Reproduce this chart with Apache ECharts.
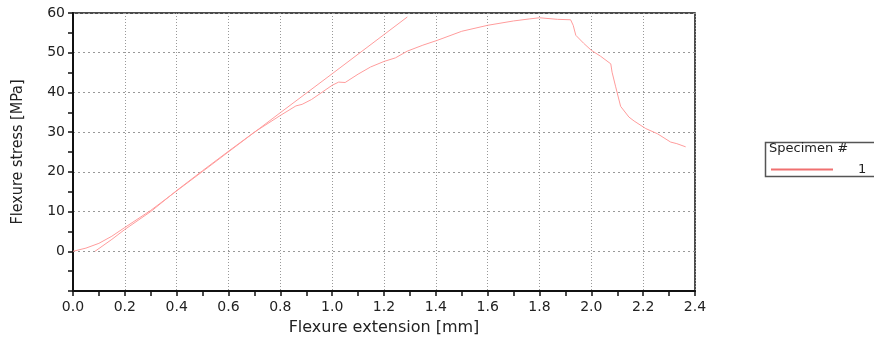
<!DOCTYPE html>
<html>
<head>
<meta charset="utf-8">
<script src="https://cdn.jsdelivr.net/npm/echarts@6/dist/echarts.min.js"></script>
<style>html,body{margin:0;padding:0;background:#fff;}#c{width:874px;height:339px;}</style>
</head>
<body>
<div id="c"></div>
<script>
// Fitted straight line (extension mm, stress MPa)
const fitLine = [[0,0],[0.05,0.8],[0.1,2],[0.15,3.8],[0.2,6],[0.3,10.3],[0.5,20.1],[0.8,34.9],[1.0,44.7],[1.29,59]];
// Specimen 1 measured curve
const specimen1 = [[0.085,0],[0.15,3],[0.2,5.5],[0.3,10],[0.4,15.3],[0.5,20.3],[0.6,25.2],[0.7,30],[0.8,34.2],[0.86,36.6],[0.884,37.0],[0.92,38.2],[1.0,41.8],[1.025,42.6],[1.05,42.5],[1.1,44.6],[1.148,46.4],[1.2,47.8],[1.244,48.7],[1.29,50.4],[1.35,51.9],[1.405,53.1],[1.5,55.4],[1.6,56.9],[1.7,58.0],[1.76,58.5],[1.8,58.8],[1.87,58.4],[1.92,58.3],[1.93,56.9],[1.94,54.4],[1.97,52.4],[2.0,50.6],[2.036,49.1],[2.075,47.2],[2.08,45.1],[2.094,41.4],[2.113,36.5],[2.145,33.8],[2.165,32.8],[2.21,30.9],[2.255,29.6],[2.306,27.5],[2.33,27.1],[2.364,26.3]];
const seriesName = '1';
const legendTitle = 'Specimen #';
const xTitle = 'Flexure extension [mm]';
const yTitle = 'Flexure stress [MPa]';

const chart = echarts.init(document.getElementById('c'));
const tickFont = {fontFamily:'DejaVu Sans', fontSize:14, color:'#222'};
chart.setOption({
  animation:false,
  grid:{left:73, right:179, top:13, bottom:48, outerBoundsMode:'none', containLabel:false, show:true, borderColor:'#111', borderWidth:1.5, backgroundColor:'transparent'},
  xAxis:{type:'value', min:0, max:2.4, interval:0.2,
    name:xTitle, nameLocation:'middle', nameGap:29,
    nameTextStyle:{fontFamily:'DejaVu Sans', fontSize:16, color:'#222'},
    axisLine:{onZero:false, lineStyle:{color:'#111', width:2}},
    axisTick:{show:true, length:5, lineStyle:{color:'#111', width:1.5}},
    minorTick:{show:true, splitNumber:2, length:5, lineStyle:{color:'#111', width:1.5}},
    axisLabel:Object.assign({margin:9, formatter:v=>v.toFixed(1)}, tickFont),
    splitLine:{show:true, lineStyle:{color:'#999', type:[1,2], width:1}}
  },
  yAxis:{type:'value', min:-10, max:60, interval:10,
    name:yTitle, nameLocation:'middle', nameGap:47,
    nameTextStyle:{fontFamily:"'Liberation Sans Narrow','DejaVu Sans Condensed',sans-serif", fontSize:16, color:'#222'},
    axisLine:{onZero:false, lineStyle:{color:'#111', width:2}},
    axisTick:{show:true, length:5, lineStyle:{color:'#111', width:1.5}},
    minorTick:{show:true, splitNumber:2, length:5, lineStyle:{color:'#111', width:1.5}},
    axisLabel:Object.assign({margin:8, formatter:v=>v<0?'':String(v)}, tickFont),
    splitLine:{show:true, lineStyle:{color:'#999', type:[2,3], width:1}}
  },
  legend:{left:766, top:158, data:[seriesName], icon:'rect', itemWidth:62, itemHeight:2,
    itemStyle:{color:'#f07070'},
    textStyle:{fontFamily:'DejaVu Sans', fontSize:13, color:'#222', padding:[0,0,0,20]}},
  graphic:[
    {type:'rect', left:763, top:140, shape:{width:130, height:34}, style:{fill:'none', stroke:'#555', lineWidth:1.5}, z:-1},
    {type:'text', left:769, top:142, style:{text:legendTitle, font:'13px "DejaVu Sans"', fill:'#222'}}
  ],
  series:[
    {name:seriesName, type:'line', data:fitLine, showSymbol:false, lineStyle:{color:'#ff9c9c', width:1}, itemStyle:{color:'#f07070'}},
    {name:seriesName, type:'line', data:specimen1, showSymbol:false, lineStyle:{color:'#ff9c9c', width:1}, itemStyle:{color:'#f07070'}}
  ]
});
</script>
</body>
</html>
